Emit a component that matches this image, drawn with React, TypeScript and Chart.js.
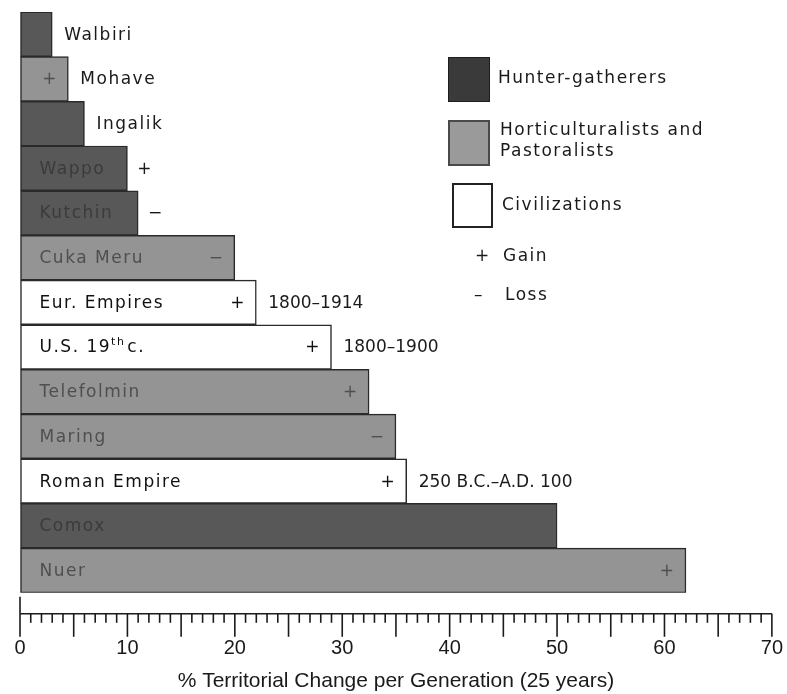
import React, { useEffect, useRef } from "react";
import { Chart, registerables } from "chart.js";

Chart.register(...registerables);

// ---- Data ----
const categories = [
  "Walbiri",
  "Mohave",
  "Ingalik",
  "Wappo",
  "Kutchin",
  "Cuka Meru",
  "Eur. Empires",
  "U.S. 19th c.",
  "Telefolmin",
  "Maring",
  "Roman Empire",
  "Comox",
  "Nuer",
];
const territorialChange = [3, 4.5, 6, 10, 11, 20, 22, 29, 32.5, 35, 36, 50, 62];
const societyTypes = [
  "hunter",
  "horti",
  "hunter",
  "hunter",
  "hunter",
  "horti",
  "civ",
  "civ",
  "horti",
  "horti",
  "civ",
  "hunter",
  "horti",
];
const changeSigns = ["", "+", "", "+", "−", "−", "+", "+", "+", "−", "+", "", "+"];
const periods = ["", "", "", "", "", "", "1800–1914", "1800–1900", "", "", "250 B.C.–A.D. 100", "", ""];
const xMin = 0;
const xMax = 70;
const axisTitle = "% Territorial Change per Generation (25 years)";
const legendLabels = ["Hunter-gatherers", "Horticulturalists and Pastoralists", "Civilizations"];
const signLegend = [
  ["+", "Gain"],
  ["–", "Loss"],
];

const FILL: Record<string, string> = { hunter: "#585858", horti: "#949494", civ: "#ffffff" };
const INSIDE_TEXT: Record<string, string> = { hunter: "#3b3b3b", horti: "#4f4f4f", civ: "#111111" };
const LABEL_FONT = '17px "DejaVu Sans", sans-serif';
const SUP_FONT = '11px "DejaVu Sans", sans-serif';

function splitSup(name: string) {
  const m = name.match(/^(.*\d)(th)\s?(.*)$/);
  if (!m) return null;
  return m;
}

function measureName(ctx: CanvasRenderingContext2D, name: string) {
  const m = splitSup(name);
  ctx.font = LABEL_FONT;
  if (!m) return ctx.measureText(name).width;
  let w = ctx.measureText(m[1]).width;
  ctx.font = SUP_FONT;
  w += ctx.measureText(m[2]).width + 2;
  ctx.font = LABEL_FONT;
  w += ctx.measureText(m[3]).width;
  return w;
}

function drawName(ctx: CanvasRenderingContext2D, name: string, x: number, y: number, color: string) {
  ctx.fillStyle = color;
  ctx.textAlign = "left";
  const m = splitSup(name);
  ctx.font = LABEL_FONT;
  if (!m) {
    ctx.fillText(name, x, y);
    return;
  }
  ctx.fillText(m[1], x, y);
  let cx = x + ctx.measureText(m[1]).width;
  ctx.font = SUP_FONT;
  ctx.fillText(m[2], cx, y - 6);
  cx += ctx.measureText(m[2]).width + 2;
  ctx.font = LABEL_FONT;
  ctx.fillText(m[3], cx, y);
}

const barLabelPlugin = {
  id: "barLabels",
  afterDatasetsDraw(chart: any) {
    const ctx: CanvasRenderingContext2D = chart.ctx;
    const meta = chart.getDatasetMeta(0);
    ctx.save();
    ctx.textBaseline = "middle";
    meta.data.forEach((bar: any, i: number) => {
      const p = bar.getProps(["x", "y", "base"], true);
      const left = Math.min(p.x, p.base);
      const right = Math.max(p.x, p.base);
      const w = right - left;
      const y = p.y + 1;
      const type = societyTypes[i];
      const name = categories[i];
      (ctx as any).letterSpacing = "1.5px";
      const nameW = measureName(ctx, name);
      const inside = 19 + nameW + 8 <= w;
      const inColor = INSIDE_TEXT[type];
      if (inside) drawName(ctx, name, left + 19, y, inColor);
      else drawName(ctx, name, right + 12, y, "#1a1a1a");
      let cursor = right;
      const sign = changeSigns[i];
      (ctx as any).letterSpacing = "0px";
      ctx.font = LABEL_FONT;
      if (sign) {
        ctx.textAlign = "center";
        const fitsInside = inside ? 19 + nameW + 32 <= w : w >= 30;
        if (fitsInside) {
          ctx.fillStyle = inColor;
          ctx.fillText(sign, right - 19, y);
        } else {
          ctx.fillStyle = "#1a1a1a";
          ctx.fillText(sign, right + 17, y);
          cursor = right + 26;
        }
      }
      const period = periods[i];
      if (period) {
        ctx.textAlign = "left";
        ctx.fillStyle = "#1a1a1a";
        ctx.fillText(period, cursor + 12, y);
      }
    });
    ctx.restore();
  },
};

const rulerPlugin = {
  id: "ruler",
  afterDraw(chart: any) {
    const ctx: CanvasRenderingContext2D = chart.ctx;
    const scale = chart.scales.x;
    const area = chart.chartArea;
    const y0 = area.bottom + 21;
    ctx.save();
    ctx.strokeStyle = "#1a1a1a";
    ctx.lineWidth = 1.6;
    ctx.beginPath();
    ctx.moveTo(scale.getPixelForValue(xMin), y0);
    ctx.lineTo(scale.getPixelForValue(xMax), y0);
    ctx.stroke();
    scale.ticks.forEach((t: any) => {
      const v = t.value;
      const px = scale.getPixelForValue(v);
      const len = v % 5 === 0 ? 23 : 9;
      ctx.beginPath();
      ctx.moveTo(px, v === xMin ? area.bottom + 4 : y0);
      ctx.lineTo(px, y0 + len);
      ctx.stroke();
    });
    ctx.restore();
  },
};

export default function App() {
  const canvasRef = useRef<HTMLCanvasElement | null>(null);

  useEffect(() => {
    if (!canvasRef.current) return;
    const chart = new Chart(canvasRef.current, {
      type: "bar",
      data: {
        labels: categories,
        datasets: [
          {
            data: territorialChange,
            backgroundColor: societyTypes.map((t) => FILL[t]),
            borderColor: "#2a2a2a",
            borderWidth: 1.5,
            borderSkipped: false,
            categoryPercentage: 1,
            barPercentage: 1,
          },
        ],
      },
      options: {
        indexAxis: "y",
        animation: false,
        responsive: true,
        maintainAspectRatio: false,
        layout: { padding: { left: 20, right: 14, top: 12, bottom: 0 } },
        plugins: {
          legend: { display: false },
          tooltip: { enabled: false },
          title: { display: false },
        },
        scales: {
          y: { type: "category", display: false },
          x: {
            type: "linear",
            min: xMin,
            max: xMax,
            grid: {
              display: true,
              drawOnChartArea: false,
              drawTicks: true,
              tickLength: 40,
              color: "rgba(0,0,0,0)",
              tickColor: "rgba(0,0,0,0)",
            },
            border: { display: false },
            ticks: {
              stepSize: 1,
              autoSkip: false,
              maxRotation: 0,
              padding: 4,
              color: "#1a1a1a",
              font: { family: '"Liberation Sans", sans-serif', size: 20 },
              callback: (v: any) => (Number(v) % 10 === 0 ? String(v) : ""),
            },
            title: {
              display: true,
              text: axisTitle,
              color: "#1a1a1a",
              font: { family: '"Liberation Sans", sans-serif', size: 21 },
              padding: { top: 4, bottom: 0 },
            },
          },
        },
      },
      plugins: [barLabelPlugin, rulerPlugin],
    });
    return () => chart.destroy();
  }, []);

  const textStyle: React.CSSProperties = {
    position: "absolute",
    fontFamily: '"DejaVu Sans", sans-serif',
    fontSize: 17,
    letterSpacing: "1.5px",
    color: "#1a1a1a",
    whiteSpace: "nowrap",
    lineHeight: "20px",
  };
  const boxBase: React.CSSProperties = { position: "absolute", boxSizing: "border-box" };

  return (
    <div style={{ position: "fixed", left: 0, top: 0, width: 787, height: 694, background: "#fff" }}>
      <div style={{ position: "absolute", left: 0, top: 0, width: 787, height: 694 }}>
        <canvas ref={canvasRef} />
      </div>
      <div style={{ ...boxBase, left: 448, top: 57, width: 42, height: 45, background: "#3a3a3a", border: "1.5px solid #1e1e1e" }} />
      <div style={{ ...textStyle, left: 498, top: 67 }}>{legendLabels[0]}</div>
      <div style={{ ...boxBase, left: 448, top: 120, width: 42, height: 46, background: "#9a9a9a", border: "2px solid #4a4a4a" }} />
      <div style={{ ...textStyle, left: 500, top: 119, lineHeight: "21px", whiteSpace: "normal", width: 230 }}>
        {legendLabels[1]}
      </div>
      <div style={{ ...boxBase, left: 452, top: 183, width: 41, height: 45, background: "#ffffff", border: "2px solid #222" }} />
      <div style={{ ...textStyle, left: 502, top: 194 }}>{legendLabels[2]}</div>
      <div style={{ ...textStyle, left: 475, top: 245 }}>
        <span style={{ display: "inline-block", width: 28 }}>{signLegend[0][0] + " "}</span>
        {signLegend[0][1]}
      </div>
      <div style={{ ...textStyle, left: 474, top: 284 }}>
        <span style={{ display: "inline-block", width: 31 }}>{signLegend[1][0] + " "}</span>
        {signLegend[1][1]}
      </div>
    </div>
  );
}
